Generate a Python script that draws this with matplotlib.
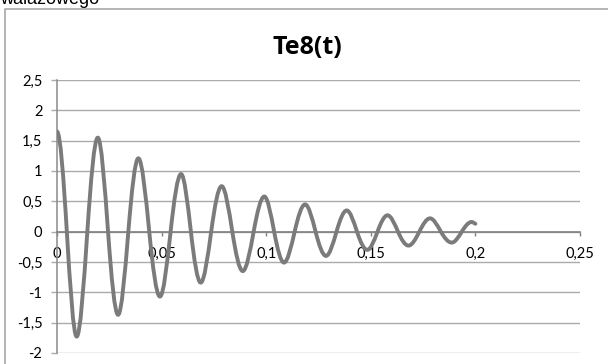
import numpy as np
import matplotlib
matplotlib.use('Agg')
import matplotlib.pyplot as plt
from matplotlib.path import Path
from matplotlib.patches import PathPatch, Rectangle

plt.rcParams['font.family'] = ['Lato', 'DejaVu Sans']

# time [s] and torque samples: peaks, troughs and the zero crossings between them
t_s = [0.0, 0.0047, 0.0094, 0.0145, 0.0195, 0.0244, 0.0292, 0.0341, 0.0389, 0.0441,
       0.0492, 0.0543, 0.0593, 0.0640, 0.0687, 0.0737, 0.0787, 0.0838, 0.0888, 0.0940,
       0.0991, 0.1038, 0.1085, 0.1136, 0.1186, 0.1236, 0.1286, 0.1336, 0.1385, 0.1434,
       0.1483, 0.1532, 0.1580, 0.1630, 0.1680, 0.1732, 0.1783, 0.1835, 0.1887, 0.1935,
       0.1982, 0.2000]
te8 = [1.65, 0, -1.73, 0, 1.55, 0, -1.37, 0, 1.21, 0,
       -1.07, 0, 0.95, 0, -0.84, 0, 0.75, 0, -0.65, 0,
       0.58, 0, -0.51, 0, 0.45, 0, -0.40, 0, 0.35, 0,
       -0.30, 0, 0.27, 0, -0.23, 0, 0.22, 0, -0.18, 0,
       0.16, 0.13]

x_ticks = [0, 0.05, 0.1, 0.15, 0.2, 0.25]
x_tick_labels = ['0', '0,05', '0,1', '0,15', '0,2', '0,25']
y_ticks = [-2, -1.5, -1, -0.5, 0, 0.5, 1, 1.5, 2, 2.5]
y_tick_labels = ['-2', '-1,5', '-1', '-0,5', '0', '0,5', '1', '1,5', '2', '2,5']


def smooth_path(x, y):
    # cubic Hermite curve through the samples, flat at peaks/troughs,
    # sine-like slope at the crossings
    x = np.asarray(x, dtype=float)
    y = np.asarray(y, dtype=float)
    n = len(x)
    m = np.zeros(n)
    for i in range(1, n - 1):
        if (y[i] - y[i - 1]) * (y[i + 1] - y[i]) <= 0:
            m[i] = 0.0
        else:
            m[i] = np.pi / 2 * (y[i + 1] - y[i - 1]) / (x[i + 1] - x[i - 1])
    m[-1] = (y[-1] - y[-2]) / (x[-1] - x[-2])
    verts = [(x[0], y[0])]
    codes = [Path.MOVETO]
    for i in range(n - 1):
        h = (x[i + 1] - x[i]) / 3
        verts += [(x[i] + h, y[i] + m[i] * h),
                  (x[i + 1] - h, y[i + 1] - m[i + 1] * h),
                  (x[i + 1], y[i + 1])]
        codes += [Path.CURVE4] * 3
    return Path(verts, codes)


W, H = 608, 364
fig = plt.figure(figsize=(W / 100, H / 100), dpi=100)

# chart frame, runs off the right and bottom edges
fig.patches.append(Rectangle((4.5 / W, -0.1), 1.2, 1.1 - 9.5 / H,
                             transform=fig.transFigure, fill=False,
                             edgecolor='#a0a0a0', linewidth=1.1))

# tail of the line of text above the chart
fig.text(0.0, 1 - 4.5 / H, 'wałazowego', family=['Liberation Sans', 'DejaVu Sans'],
         fontsize=13, ha='left', va='baseline', color='black')

ax = fig.add_axes([57 / W, 1 - 353 / H, (580 - 57) / W, (353 - 80) / H])
ax.set_xlim(0, 0.25)
ax.set_ylim(-2, 2.5)

ax.set_yticks(y_ticks)
ax.set_yticklabels(y_tick_labels)
ax.set_xticks(x_ticks)
ax.set_xticklabels(x_tick_labels)

ax.grid(axis='y', color='#ababab', linewidth=1.0)
ax.set_axisbelow(True)

for side in ['top', 'right']:
    ax.spines[side].set_visible(False)
ax.spines['left'].set_color('#8a8a8a')
ax.spines['left'].set_linewidth(1.1)
ax.spines['bottom'].set_position(('data', 0))
ax.spines['bottom'].set_color('#808080')
ax.spines['bottom'].set_linewidth(1.2)

ax.tick_params(axis='y', direction='out', length=4, width=1, color='#ababab',
               pad=6.5, labelsize=10.5, labelcolor='black')
ax.tick_params(axis='x', direction='out', length=3, width=1, color='#808080',
               pad=8, labelsize=10.5, labelcolor='black')

curve = PathPatch(smooth_path(t_s, te8), facecolor='none', edgecolor='#7b7b7b',
                  linewidth=2.8, capstyle='round', joinstyle='round', zorder=3)
ax.add_patch(curve)

fig.text(307 / W, 1 - 47 / H, 'Te8(t)', family=['Open Sans', 'DejaVu Sans'],
         fontsize=18, fontweight='bold', ha='center', va='center')

fig.savefig('out.png', dpi=100)
